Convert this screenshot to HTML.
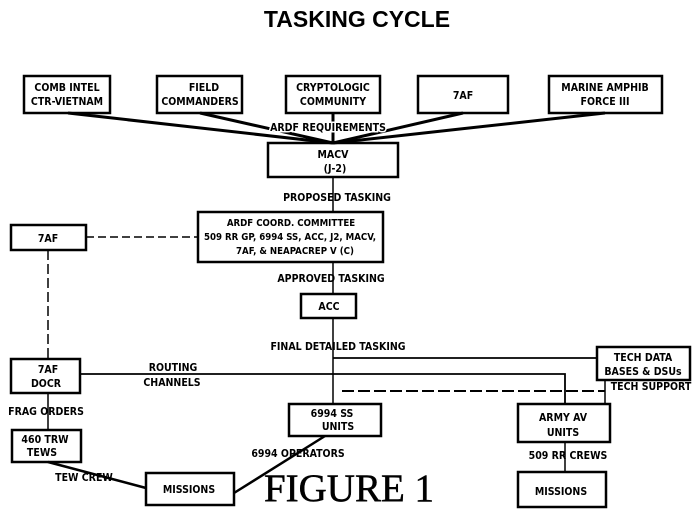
<!DOCTYPE html>
<html><head><style>
html,body{margin:0;padding:0;background:#fff;}
svg{display:block;}
text{font-family:"Liberation Sans",sans-serif;font-weight:bold;fill:#000;}
.s{font-size:10.5px;font-family:"DejaVu Sans Condensed","Liberation Sans",sans-serif;}
.c{font-size:9.6px;}
</style></head><body>
<svg width="700" height="529" viewBox="0 0 700 529" xmlns="http://www.w3.org/2000/svg">
<text x="357" y="27" font-size="23" text-anchor="middle" font-weight="bold" style="font-family:'Liberation Sans',sans-serif">TASKING CYCLE</text>
<g fill="none" stroke="#000" stroke-width="2.5">
<line x1="68" y1="113" x2="333" y2="143" stroke-width="3"/>
<line x1="200" y1="113" x2="333" y2="143" stroke-width="3"/>
<line x1="333" y1="113" x2="333" y2="143" stroke-width="3"/>
<line x1="463" y1="113" x2="333" y2="143" stroke-width="3"/>
<line x1="605" y1="113" x2="333" y2="143" stroke-width="3"/>
<line x1="333" y1="177" x2="333" y2="212" stroke-width="1.5"/>
<line x1="333" y1="262" x2="333" y2="294" stroke-width="1.5"/>
<line x1="333" y1="318" x2="333" y2="404" stroke-width="1.5"/>
<line x1="86" y1="237" x2="197" y2="237" stroke-dasharray="8,4" stroke-width="1.5"/>
<line x1="48" y1="250" x2="48" y2="359" stroke-dasharray="10,4" stroke-width="1.5"/>
<line x1="48" y1="393" x2="48" y2="430" stroke-width="1.5"/>
<line x1="333" y1="358" x2="596" y2="358" stroke-width="1.8"/>
<polyline points="80,374 565,374 565,404" stroke-width="1.8"/>
<polyline points="342,391 605,391" stroke-dasharray="12,4" stroke-width="2"/>
<line x1="605" y1="380" x2="605" y2="404" stroke-width="1.5"/>
<line x1="565" y1="442" x2="565" y2="472" stroke-width="1.5"/>
<line x1="48" y1="462" x2="146" y2="488" stroke-width="2.5"/>
<line x1="325" y1="436" x2="234" y2="493" stroke-width="2.5"/>
<rect x="24" y="76" width="86" height="37"/>
<rect x="157" y="76" width="85" height="37"/>
<rect x="286" y="76" width="94" height="37"/>
<rect x="418" y="76" width="90" height="37"/>
<rect x="549" y="76" width="113" height="37"/>
<rect x="268" y="143" width="130" height="34"/>
<rect x="198" y="212" width="185" height="50"/>
<rect x="11" y="225" width="75" height="25"/>
<rect x="301" y="294" width="55" height="24"/>
<rect x="11" y="359" width="69" height="34"/>
<rect x="597" y="347" width="93" height="33"/>
<rect x="289" y="404" width="92" height="32"/>
<rect x="518" y="404" width="92" height="38"/>
<rect x="12" y="430" width="69" height="32"/>
<rect x="146" y="473" width="88" height="32"/>
<rect x="518" y="472" width="88" height="35"/>
</g>
<g class="s" text-anchor="middle">
<text class="s" x="67" y="91">COMB INTEL</text><text class="s" x="67" y="105">CTR-VIETNAM</text>
<text class="s" x="204" y="91">FIELD</text><text class="s" x="200" y="105">COMMANDERS</text>
<text class="s" x="333" y="91">CRYPTOLOGIC</text><text class="s" x="333" y="105">COMMUNITY</text>
<text class="s" x="463" y="99">7AF</text>
<text class="s" x="605" y="91">MARINE AMPHIB</text><text class="s" x="605" y="105">FORCE III</text>
<text class="s" x="328" y="131" style="paint-order:stroke" stroke="#fff" stroke-width="3">ARDF REQUIREMENTS</text>
<text class="s" x="333" y="158">MACV</text><text class="s" x="335" y="172">(J-2)</text>
<text class="s" x="337" y="201">PROPOSED TASKING</text>
<text class="s c" x="291" y="226">ARDF COORD. COMMITTEE</text>
<text class="s c" x="290" y="240">509 RR GP, 6994 SS, ACC, J2, MACV,</text>
<text class="s c" x="295" y="254">7AF, &amp; NEAPACREP V (C)</text>
<text class="s" x="48" y="242">7AF</text>
<text class="s" x="331" y="282">APPROVED TASKING</text>
<text class="s" x="329" y="310">ACC</text>
<text class="s" x="338" y="350">FINAL DETAILED TASKING</text>
<text class="s" x="48" y="373">7AF</text><text class="s" x="46" y="387">DOCR</text>
<text class="s" x="173" y="371">ROUTING</text><text class="s" x="172" y="386">CHANNELS</text>
<text class="s" x="643" y="361">TECH DATA</text><text class="s" x="643" y="375">BASES &amp; DSUs</text>
<text class="s" x="651" y="390">TECH SUPPORT</text>
<text class="s" x="46" y="415">FRAG ORDERS</text>
<text class="s" x="332" y="417">6994 SS</text><text class="s" x="338" y="430">UNITS</text>
<text class="s" x="563" y="421">ARMY AV</text><text class="s" x="563" y="436">UNITS</text>
<text class="s" x="45" y="443">460 TRW</text><text class="s" x="42" y="456">TEWS</text>
<text class="s" x="298" y="457">6994 OPERATORS</text>
<text class="s" x="568" y="459">509 RR CREWS</text>
<text class="s" x="84" y="481">TEW CREW</text>
<text class="s" x="189" y="493">MISSIONS</text>
<text class="s" x="561" y="495">MISSIONS</text>
</g>
<text x="349" y="501" font-size="39" text-anchor="middle" style="font-family:'Liberation Serif',serif;font-weight:normal" fill="#000" stroke="#000" stroke-width="0.5">FIGURE  1</text>
</svg>
</body></html>
